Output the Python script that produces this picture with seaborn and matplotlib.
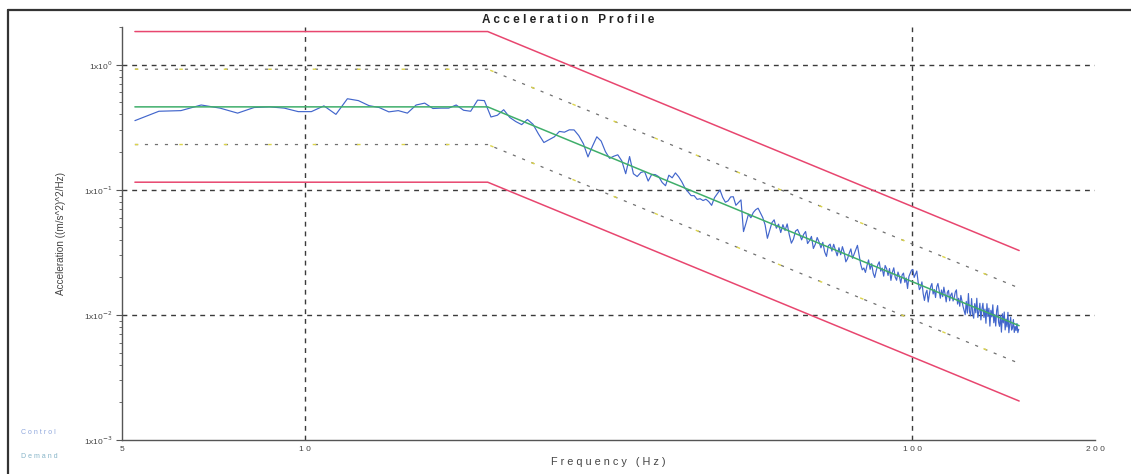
import numpy as np
import pandas as pd
import matplotlib
matplotlib.use("Agg")
import matplotlib.pyplot as plt
from matplotlib.lines import Line2D
from matplotlib.ticker import FixedLocator, LogLocator, NullFormatter
import seaborn as sns

# ---- profile definition (break points of the demand and tolerance bands) ----
profile_freq = [5.25, 20.0, 150.0]
demand_psd = [0.46, 0.46, 0.0082]
abort_hi_psd = [1.84, 1.84, 0.0327]
abort_lo_psd = [0.115, 0.115, 0.00205]
alarm_hi_psd = [0.92, 0.92, 0.0164]
alarm_lo_psd = [0.23, 0.23, 0.0041]

# ---- measured control spectrum: 0.5 Hz lines, deviation from demand in dB ----
control_start_hz = 5.25
control_step_hz = 0.5
control_dev_db = [
    # 5.25 - 21.25 Hz
    -1.1, -0.35, -0.3, 0.15, -0.1, -0.5, -0.05, 0.0, -0.1, -0.38,
    -0.38, 0.08, -0.6, 0.65, 0.5, 0.1, -0.05, -0.4, -0.3, -0.5,
    0.15, 0.3, -0.13, -0.1, -0.1, 0.15, -0.27, -0.35, 0.54, 0.5,
    -0.7, -0.35, 0.3,
    # 21.75 - 40.75 Hz
    -0.12, -0.25, -0.3, 0.3, 0.1, -0.5, -1.0, -0.6, -0.2, 0.4,
    0.5, 0.85, 1.0, 0.7, 0.2, -0.7, 0.3, 1.2, 1.0, 0.3,
    -0.1, 0.2, 0.45, 0.1, -0.8, 0.7, -0.55, -0.65, -0.2, 0.0,
    -0.65, 0.0, 0.1, 0.05, -0.3, -0.45, 0.5, 0.4, 0.9,
    # 41.25 - 149.75 Hz
    0.7, 0.4, 0.0, -0.2, -0.4, -0.3, -0.5, -0.35, -0.4, -0.2,
    -0.3, -0.5, 0.2, 0.6, 1.0, 0.5, 0.2, 0.4, 0.8, 0.9,
    0.3, 0.6, 0.9, -1.55, -0.8, 0.0, -0.2, 0.3, 0.6, 0.8,
    0.5, 0.2, -0.3, -1.3, -0.6, 0.1, 0.4, -0.2, 0.2, -0.4,
    0.3, -0.1, 0.5, -0.3, -0.9, -0.5, 0.2, 0.4, 0.1, -0.3,
    0.2, 0.5, -0.4, -0.1, 0.3, -0.6, -0.2, 0.4, 0.1, -0.3,
    0.2, -0.5, -0.8, 0.1, 0.3, -0.2, 0.4, 0.0, -0.4, 0.3,
    -0.2, 0.5, 0.1, -0.6, -0.3, 0.2, 0.6, -0.1, 0.3, 0.7,
    1.1, 0.4, -0.3, -0.7, -0.5, -0.8, -0.2, 0.3, -0.4, 0.1,
    -0.6, -0.9, -0.3, 0.2, 0.5, -0.2, 0.1, -0.5, 0.4, 0.2,
    -0.3, 0.3, -0.6, 0.1, 0.5, -0.2, -0.4, 0.3, 0.0, -0.5,
    0.2, 0.4, -0.3, 0.1, -0.7, 0.3, 0.6, 0.9, 1.0, 0.4,
    0.7, 1.0, 0.2, -0.4, -0.2, 0.3, -0.6, -1.1, -0.5, -0.2,
    -1.1, -0.4, 0.2, 0.5, -0.3, 0.1, -0.5, 0.4, 0.7, 0.2,
    -0.4, 0.3, -0.2, 0.6, 0.1, -0.5, 0.3, 0.5, -0.3, 0.2,
    0.4, -0.2, 0.1, 0.6, 0.8, -0.3, 0.2, -0.4, 0.5, 0.1,
    -0.3, -0.6, -0.9, 0.2, -0.7, 0.9, -0.5, -0.8, 0.6, -0.6,
    -0.9, 0.3, -0.4, 0.8, -0.7, -0.2, 0.5, -0.8, 0.1, 0.6,
    -0.5, 0.2, -0.9, 0.7, -0.3, 0.4, -1.0, 0.3, -0.2, 0.8,
    -0.6, 0.1, -0.8, 0.5, 0.9, -0.4, -0.7, 0.2, -1.1, 0.4,
    -0.3, 0.6, -0.8, 0.1, -0.5, 0.7, -0.9, -0.2, 0.4, -0.6,
    -0.4, 0.3, -0.7, -0.2, -0.5, 0.1, -0.6, -0.3,
]

y_ticks = [1e-3, 1e-2, 1e-1, 1.0]
y_tick_labels = [r"1x10$^{-3}$", r"1x10$^{-2}$", r"1x10$^{-1}$", r"1x10$^{0}$"]
x_ticks = [5, 10, 100, 200]
x_tick_labels = ["5", "1 0", "1 0 0", "2 0 0"]

# ---- build frames ----
ctrl_freq = control_start_hz + control_step_hz * np.arange(len(control_dev_db))
log_demand = np.interp(np.log10(ctrl_freq), np.log10(profile_freq), np.log10(demand_psd))
ctrl_psd = 10 ** (log_demand + np.asarray(control_dev_db) / 10.0)
control_df = pd.DataFrame({"freq": ctrl_freq, "psd": ctrl_psd})


def band(vals):
    return pd.DataFrame({"freq": profile_freq, "psd": vals})


def draw(vals_df, **kw):
    sns.lineplot(data=vals_df, x="freq", y="psd", ax=ax, estimator=None, sort=False,
                 legend=False, **kw)
    return ax.lines[-1]


sns.set_theme(style="white")
plt.rcParams["font.family"] = ["Liberation Sans", "DejaVu Sans"]

fig = plt.figure(figsize=(11.31, 4.74), dpi=100)
ax = fig.add_axes([0.1079, 0.0717, 0.8603, 0.8713])
ax.set_xscale("log")
ax.set_yscale("log")

grid_kw = dict(color="#3a3a3a", lw=1.0, dashes=(3.5, 3.5), zorder=1)
for yv in [1e-2, 1e-1, 1.0]:
    ax.axhline(yv, **grid_kw)
for xv in [10, 100]:
    ax.axvline(xv, **grid_kw)

red = "#e8466f"
for vals in (abort_hi_psd, abort_lo_psd):
    draw(band(vals), color=red, lw=1.1, zorder=3)

# alarm limits: grey dashes with a yellow dash every few segments
for vals in (alarm_hi_psd, alarm_lo_psd):
    ln = draw(band(vals), color="#707070", lw=0.9, zorder=3)
    ln.set_linestyle((0, (2.5, 5.5)))
    ln = draw(band(vals), color="#dcd44a", lw=1.0, zorder=3)
    ln.set_linestyle((0, (2.5, 29.5)))

draw(control_df, color="#4266cc", lw=0.85, zorder=4)
draw(band(demand_psd), color="#3fae6a", lw=1.1, zorder=5)

ax.set_xlim(5, 200)
ax.set_ylim(1e-3, 2.0)

# ---- axes styling ----
for side in ("top", "right"):
    ax.spines[side].set_visible(False)
for side in ("left", "bottom"):
    ax.spines[side].set_color("#555555")
    ax.spines[side].set_linewidth(1.0)

ax.yaxis.set_major_locator(FixedLocator(y_ticks))
ax.set_yticklabels(y_tick_labels)
ax.yaxis.set_minor_locator(LogLocator(base=10, subs=np.arange(2, 10)))
ax.yaxis.set_minor_formatter(NullFormatter())
ax.tick_params(axis="y", which="major", direction="out", length=4, width=0.8,
               color="#555555", labelsize=6, labelcolor="#444444", pad=3, left=True)
ax.tick_params(axis="y", which="minor", direction="out", length=2, width=0.6,
               color="#555555", left=True)

ax.xaxis.set_major_locator(FixedLocator(x_ticks))
ax.set_xticklabels(x_tick_labels)
ax.xaxis.set_minor_locator(FixedLocator([]))
ax.tick_params(axis="x", which="major", length=0, labelsize=6, labelcolor="#444444", pad=4)

ax.set_xlabel("F r e q u e n c y   ( H z )", fontsize=7.8, color="#444444", labelpad=3)
ax.set_ylabel("Acceleration ((m/s^2)^2/Hz)", fontsize=7.2, color="#444444", labelpad=13)
fig.text(0.502, 0.9515, "A c c e l e r a t i o n   P r o f i l e", fontsize=8.5,
         fontweight="bold", color="#222222", ha="center", va="baseline")

# ---- legend captions and page frame ----
fig.text(0.019, 0.084, "C o n t r o l", fontsize=5, color="#8ea6dc")
fig.text(0.019, 0.034, "D e m a n d", fontsize=5, color="#86b4c8")
fig.add_artist(Line2D([0.007, 1.0], [0.979, 0.979], color="#333333", lw=1.6))
fig.add_artist(Line2D([0.007, 0.007], [0.0, 0.979], color="#333333", lw=1.6))

fig.savefig("out.png", dpi=100, facecolor="white")
